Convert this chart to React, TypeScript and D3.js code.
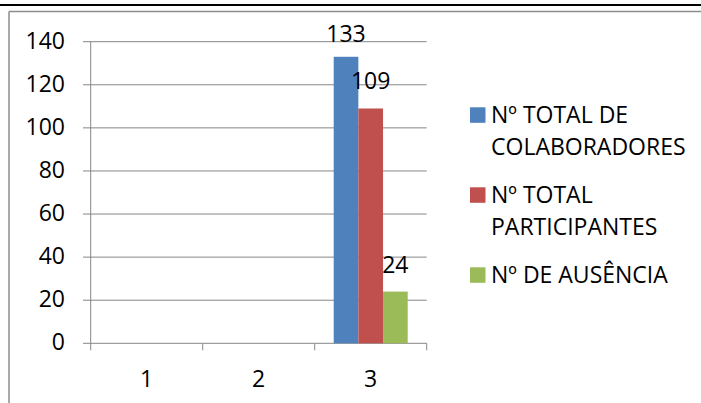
import React from "react";
import * as d3 from "d3";

const categories = ["1", "2", "3"];
const seriesNames = ["Nº TOTAL DE COLABORADORES", "Nº TOTAL PARTICIPANTES", "Nº DE AUSÊNCIA"];
const legendLines = [["Nº TOTAL DE", "COLABORADORES"], ["Nº TOTAL", "PARTICIPANTES"], ["Nº DE AUSÊNCIA"]];
const colaboradores: (number | null)[] = [null, null, 133];
const participantes: (number | null)[] = [null, null, 109];
const ausencia: (number | null)[] = [null, null, 24];
const yTicks = [0, 20, 40, 60, 80, 100, 120, 140];
const colors = ["#4F81BD", "#C0504D", "#9BBB59"];

const W = 701;
const H = 403;
const FONT = "'Open Sans', sans-serif";
const FS = 23;

export default function App() {
  const series = [colaboradores, participantes, ausencia];
  const y = d3.scaleLinear().domain([0, 140]).range([343.3, 41.7]);
  const x = d3.scaleBand<string>().domain(categories).range([90.7, 426.7]).padding(0);
  const xs = d3
    .scaleBand<string>()
    .domain(seriesNames)
    .range([0, x.bandwidth()])
    .paddingInner(0)
    .paddingOuter(0.77);
  const axisColor = "#868686";
  const [x0, x1] = x.range();
  const y0 = y(0);

  return (
    <svg
      width={W}
      height={H}
      style={{ position: "absolute", left: 0, top: 0, background: "#fff" }}
      fontFamily={FONT}
    >
      <rect x={0} y={0} width={W} height={H} fill="#fff" />
      {/* page rules and chart frame */}
      <rect x={0} y={4} width={W} height={2} fill="#000" />
      <line x1={9} y1={11.5} x2={W} y2={11.5} stroke="#8c8c8c" strokeWidth={1.5} />
      <line x1={9} y1={11.5} x2={9} y2={H} stroke="#8c8c8c" strokeWidth={1.5} />

      {/* gridlines + y tick stubs */}
      {yTicks.map((t) => (
        <line key={"g" + t} x1={83} x2={x1} y1={y(t)} y2={y(t)} stroke={axisColor} strokeWidth={1} />
      ))}
      {/* y axis */}
      <line x1={x0} x2={x0} y1={y(140)} y2={y0} stroke={axisColor} strokeWidth={1} />
      {/* x axis tick marks */}
      {[...categories.map((c) => x(c) as number), x1].map((v, i) => (
        <line key={"xt" + i} x1={v} x2={v} y1={y0} y2={y0 + 7} stroke={axisColor} strokeWidth={1} />
      ))}

      {/* y tick labels */}
      {yTicks.map((t) => (
        <text key={"yl" + t} x={65} y={y(t) + 7} textAnchor="end" fontSize={FS} fill="#000">
          {t}
        </text>
      ))}
      {/* x tick labels */}
      {categories.map((c) => (
        <text
          key={"xl" + c}
          x={(x(c) as number) + x.bandwidth() / 2}
          y={386.5}
          textAnchor="middle"
          fontSize={FS}
          fill="#000"
        >
          {c}
        </text>
      ))}

      {/* bars */}
      {series.map((vals, si) =>
        vals.map((v, ci) =>
          v == null ? null : (
            <rect
              key={"b" + si + "-" + ci}
              x={(x(categories[ci]) as number) + (xs(seriesNames[si]) as number)}
              y={y(v)}
              width={xs.bandwidth()}
              height={y0 - y(v)}
              fill={colors[si]}
            />
          )
        )
      )}
      {/* bar value labels */}
      {series.map((vals, si) =>
        vals.map((v, ci) =>
          v == null ? null : (
            <text
              key={"bl" + si + "-" + ci}
              x={(x(categories[ci]) as number) + (xs(seriesNames[si]) as number) + xs.bandwidth() / 2}
              y={Math.max(y(v) - 19, y(140) + 0.5)}
              textAnchor="middle"
              fontSize={FS}
              fill="#000"
            >
              {v}
            </text>
          )
        )
      )}

      {/* legend */}
      {legendLines.map((lines, i) => {
        const base = 122.8 + i * 80;
        return (
          <g key={"lg" + i}>
            <rect x={470} y={base - 15.5} width={15.5} height={15.5} fill={colors[i]} />
            {lines.map((ln, j) => (
              <text key={j} x={491} y={base + j * 32} fontSize={FS} fill="#000">
                {ln}
              </text>
            ))}
          </g>
        );
      })}
    </svg>
  );
}
